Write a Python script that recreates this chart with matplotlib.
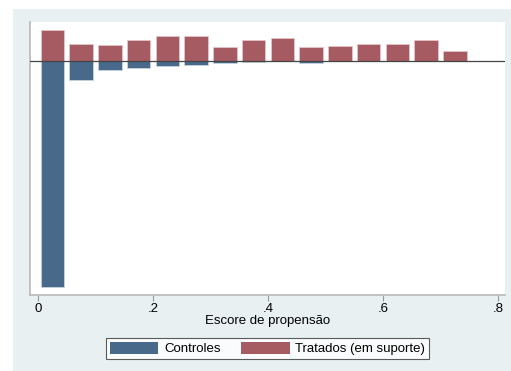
import matplotlib.pyplot as plt
import numpy as np

# propensity score bins (width .05), heights as share of group
bin_centers = [0.025, 0.075, 0.125, 0.175, 0.225, 0.275, 0.325, 0.375,
               0.425, 0.475, 0.525, 0.575, 0.625, 0.675, 0.725]
treated = [0.110, 0.062, 0.056, 0.076, 0.089, 0.089, 0.049, 0.076,
           0.082, 0.049, 0.055, 0.062, 0.062, 0.076, 0.035]
controls = [0.806, 0.067, 0.033, 0.024, 0.017, 0.013, 0.008, 0.005,
            0.001, 0.006, 0.0, 0.0, 0.0, 0.0, 0.0]
xticks = [0, 0.2, 0.4, 0.6, 0.8]
xtick_labels = ['0', '.2', '.4', '.6', '.8']

plt.rcParams['font.family'] = ['Liberation Sans', 'DejaVu Sans']

W, H = 511, 371
fig = plt.figure(figsize=(W / 100, H / 100), dpi=100)
fig.patch.set_facecolor('white')
# light stata-style graph region
fig.patches.append(plt.Rectangle((13 / W, 0), 1 - 13 / W, 1 - 9 / H,
                                 transform=fig.transFigure,
                                 facecolor='#e8f0f2', edgecolor='none', zorder=-10))

ax = fig.add_axes([30 / W, 1 - 295 / H, 475 / W, 273 / H])
ax.set_facecolor('white')

blue = '#48698a'
red = '#a65b62'
ax.bar(bin_centers, [-c for c in controls], width=0.041, color=blue,
       edgecolor='#c8d4de', linewidth=0.6, label='Controles', zorder=2)
ax.bar(bin_centers, treated, width=0.041, color=red,
       edgecolor='#e3c4c6', linewidth=0.6, label='Tratados (em suporte)', zorder=2)
ax.axhline(0, color='#444444', linewidth=0.9, zorder=3)

ax.set_xlim(-0.014, 0.812)
ax.set_ylim(-0.836, 0.139)
ax.set_yticks([])
ax.set_xticks(xticks)
ax.set_xticklabels(xtick_labels, fontsize=9.5)
ax.tick_params(axis='x', length=4, color='#999999', pad=2)
for s in ['top', 'right']:
    ax.spines[s].set_visible(False)
for s in ['left', 'bottom']:
    ax.spines[s].set_color('#b8b8b8')
    ax.spines[s].set_linewidth(1.2)
ax.set_xlabel('Escore de propensão', fontsize=9.5, labelpad=0)

leg = fig.legend(loc='center', bbox_to_anchor=(267.5 / W, 1 - 348.5 / H),
                 ncol=2, fontsize=9.5, frameon=True, fancybox=False,
                 handlelength=3.7, handleheight=1.1, columnspacing=1.5,
                 handletextpad=0.45, borderpad=0.3, borderaxespad=0)
leg.get_frame().set_edgecolor('#333333')
leg.get_frame().set_linewidth(0.8)
for h in leg.legend_handles:
    h.set_edgecolor('none')

fig.savefig('out.png', dpi=100)
